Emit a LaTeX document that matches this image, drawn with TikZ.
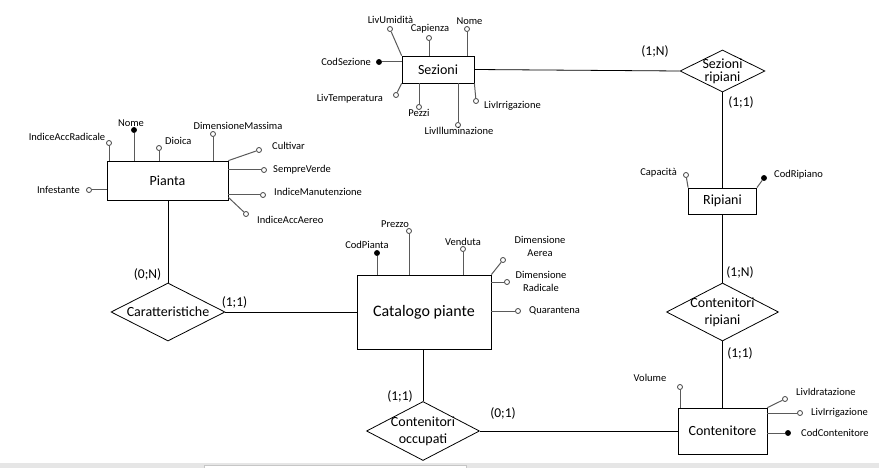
\documentclass[tikz,border=0pt]{standalone}
\usepackage{fontspec}
\setmainfont{Carlito}
\usepackage{tikz}
\usetikzlibrary{
arrows.meta,
positioning,
shapes.geometric
}
\definecolor{erlink}{RGB}{0,0,0}
\definecolor{erattr}{HTML}{5A5A5A}
\definecolor{erring}{HTML}{404040}
\definecolor{erband}{HTML}{E6E6E6}

\begin{document}
\begin{tikzpicture}[
  x=1pt, y=-1pt,
  every node/.style={font=\fontsize{10.5}{11}\selectfont},
  entity/.style={draw, line width=0.8pt, inner sep=0pt,
                 font=\fontsize{14}{16}\selectfont},
  relation/.style={draw, diamond, line width=0.8pt, inner sep=0pt,
                   minimum width=113pt, minimum height=58pt},
  reltext/.style={align=center, font=\fontsize{14}{17}\selectfont},
  card/.style={font=\fontsize{13.5}{15}\selectfont},
  attr/.style={circle, draw=erring, fill=white, line width=0.8pt,
               inner sep=0pt, minimum size=5pt},
  key/.style={attr, draw=black, fill=black},
  lbl/.style={inner sep=0pt, font=\fontsize{10.5}{13}\selectfont, align=center},
  link/.style={line width=0.8pt, erlink},
  attrline/.style={line width=1pt, erattr}
]
\useasboundingbox (0,0) rectangle (879,468);

%% Window strip at the bottom
\fill[erband] (0,463) rectangle (879,468);
\filldraw[fill=white, draw=gray!45] (204,465) rectangle (466,469);

%% Entities
\node[entity, minimum width=72pt, minimum height=27pt] (sez) at (438,69.5) {Sezioni};
\node[entity, minimum width=121pt, minimum height=39pt] (pianta) at (167.5,180.5) {Pianta};
\node[entity, minimum width=134pt, minimum height=74pt,
      font=\fontsize{16}{18}\selectfont] (catalogo) at (424,312) {Catalogo piante};
\node[entity, minimum width=68pt, minimum height=26pt] (ripiani) at (722.5,201) {Ripiani};
\node[entity, minimum width=89pt, minimum height=46pt] (cont) at (722.5,431) {Contenitore};

%% Relations
\node[relation, minimum width=85pt, minimum height=42pt] (relSR) at (722.5,71) {};
\node[reltext, font=\fontsize{14}{13}\selectfont] (relSRt) at (relSR.center) {Sezioni\\ripiani};
\node[relation, minimum width=112pt] (relCR) at (722.5,312) {};
\node[reltext] (relCRt) at (relCR.center) {Contenitori\\ripiani};
\node[relation, minimum height=59pt] (relCO) at (423,431) {};
\node[reltext] (relCOt) at (relCO.center) {Contenitori\\occupati};
\node[relation, minimum width=114pt] (relCar) at (168,312) {};
\node[reltext] (relCart) at (relCar.center) {Caratteristiche};

%% Links
\draw[link] (sez.east) -- (relSR.west);
\draw[link] (relSR.south) -- (ripiani.north);
\draw[link] (ripiani.south) -- (relCR.north);
\draw[link] (relCR.south) -- (cont.north);
\draw[link] (cont.west) -- (relCO.east);
\draw[link] (relCO.north) -- (relCO |- catalogo.south);
\draw[link] (catalogo.west) -- (relCar.east);
\draw[link] (relCar.north) -- (relCar |- pianta.south);

%% Cardinalities
\node[card] (c1) at (655,52) {(1;N)};
\node[card] (c2) at (741,102) {(1;1)};
\node[card] (c3) at (740,272) {(1;N)};
\node[card] (c4) at (740,353) {(1;1)};
\node[card] (c5) at (147.5,274) {(0;N)};
\node[card] (c6) at (234.5,302) {(1;1)};
\node[card] (c7) at (400,396) {(1;1)};
\node[card] (c8) at (503,413) {(0;1)};

%% Sezioni attributes
\node[attr] (sUmid) at (390,29) {};
\node[attr] (sCap) at (429,38) {};
\node[attr] (sNome) at (467,29) {};
\node[key] (sCod) at (379,62) {};
\node[attr] (sTemp) at (396,95) {};
\node[attr] (sPezzi) at (419,107) {};
\node[attr] (sIllum) at (458,125) {};
\node[attr] (sIrr) at (476,101) {};
\draw[attrline] (sUmid) -- (sez.north west);
\draw[attrline] (sCap) -- (sCap |- sez.north);
\draw[attrline] (sNome) -- (sNome |- sez.north);
\draw[attrline] (sCod) -- (sCod -| sez.west);
\draw[attrline] (sTemp) -- (sez.south west);
\draw[attrline] (sPezzi) -- (sPezzi |- sez.south);
\draw[attrline] (sIllum) -- (sIllum |- sez.south);
\draw[attrline] (sIrr) -- (sez.south east);
\node[lbl] (sUmidL) at (390.5,20) {LivUmidità};
\node[lbl] (sCapL) at (430,29) {Capienza};
\node[lbl] (sNomeL) at (469.5,21) {Nome};
\node[lbl, anchor=east] (sCodL) at (371,62) {CodSezione};
\node[lbl, anchor=east] (sTempL) at (383,99) {LivTemperatura};
\node[lbl] (sPezziL) at (419,113) {Pezzi};
\node[lbl] (sIllumL) at (459,131) {LivIlluminazione};
\node[lbl, anchor=west] (sIrrL) at (484,106) {LivIrrigazione};

%% Pianta attributes
\node[attr] (pRad) at (109,143) {};
\node[key] (pNome) at (134,130) {};
\node[attr] (pDioica) at (159,148) {};
\node[attr] (pDimMax) at (213,134) {};
\node[attr] (pCult) at (259,150) {};
\node[attr] (pSempre) at (264,170) {};
\node[attr] (pManut) at (263,195) {};
\node[attr] (pAereo) at (246,214) {};
\node[attr] (pInfest) at (89,190) {};
\draw[attrline] (pRad) -- (pRad |- pianta.north);
\draw[attrline] (pNome) -- (pNome |- pianta.north);
\draw[attrline] (pDioica) -- (pDioica |- pianta.north);
\draw[attrline] (pDimMax) -- (pDimMax |- pianta.north);
\draw[attrline] (pCult) -- (pianta.north east);
\draw[attrline] (pSempre) -- (pSempre -| pianta.east);
\draw[attrline] (pManut) -- (pManut -| pianta.east);
\draw[attrline] (pAereo) -- ([yshift=3pt]pianta.south east);
\draw[attrline] (pInfest) -- (pInfest -| pianta.west);
\node[lbl] (pRadL) at (67,137) {IndiceAccRadicale};
\node[lbl] (pNomeL) at (131,123) {Nome};
\node[lbl, anchor=west] (pDioicaL) at (165,141) {Dioica};
\node[lbl] (pDimMaxL) at (238,126) {DimensioneMassima};
\node[lbl, anchor=west] (pCultL) at (272,146) {Cultivar};
\node[lbl, anchor=west] (pSempreL) at (273,170) {SempreVerde};
\node[lbl, anchor=west] (pManutL) at (274,192) {IndiceManutenzione};
\node[lbl, anchor=west] (pAereoL) at (257,220) {IndiceAccAereo};
\node[lbl, anchor=east] (pInfestL) at (80,190) {Infestante};

%% Catalogo piante attributes
\node[key] (cCod) at (377,253) {};
\node[attr] (cPrezzo) at (409,231) {};
\node[attr] (cVend) at (463,249) {};
\node[attr] (cAerea) at (503,260) {};
\node[attr] (cRadic) at (507,282) {};
\node[attr] (cQuar) at (518,311) {};
\draw[attrline] (cCod) -- (cCod |- catalogo.north);
\draw[attrline] (cPrezzo) -- (cPrezzo |- catalogo.north);
\draw[attrline] (cVend) -- (cVend |- catalogo.north);
\draw[attrline] (cAerea) -- (catalogo.north east);
\draw[attrline] (cRadic) -- (cRadic -| catalogo.east);
\draw[attrline] (cQuar) -- (cQuar -| catalogo.east);
\node[lbl] (cCodL) at (367,245) {CodPianta};
\node[lbl] (cPrezzoL) at (395,224) {Prezzo};
\node[lbl] (cVendL) at (463,242) {Venduta};
\node[lbl] (cAereaL) at (540,246) {Dimensione\\Aerea};
\node[lbl] (cRadicL) at (541,281) {Dimensione\\Radicale};
\node[lbl, anchor=west] (cQuarL) at (529,311) {Quarantena};

%% Ripiani attributes
\node[attr] (rCap) at (686,175) {};
\node[key] (rCod) at (764,178) {};
\draw[attrline] (rCap) -- (ripiani.north west);
\draw[attrline] (rCod) -- (ripiani.north east);
\node[lbl, anchor=east] (rCapL) at (677,173) {Capacità};
\node[lbl, anchor=west] (rCodL) at (774,175) {CodRipiano};

%% Contenitore attributes
\node[attr] (kVol) at (680,387) {};
\node[attr] (kIdrat) at (785,399) {};
\node[attr] (kIrr) at (800,413) {};
\node[key] (kCod) at (788,433) {};
\draw[attrline] (kVol) -- (kVol |- cont.north);
\draw[attrline] (kIdrat) -- (cont.north east);
\draw[attrline] (kIrr) -- (kIrr -| cont.east);
\draw[attrline] (kCod) -- (kCod -| cont.east);
\node[lbl] (kVolL) at (650,378) {Volume};
\node[lbl, anchor=west] (kIdratL) at (796,392) {LivIdratazione};
\node[lbl, anchor=west] (kIrrL) at (811,413) {LivIrrigazione};
\node[lbl, anchor=west] (kCodL) at (801,433) {CodContenitore};

\end{tikzpicture}
\end{document}
